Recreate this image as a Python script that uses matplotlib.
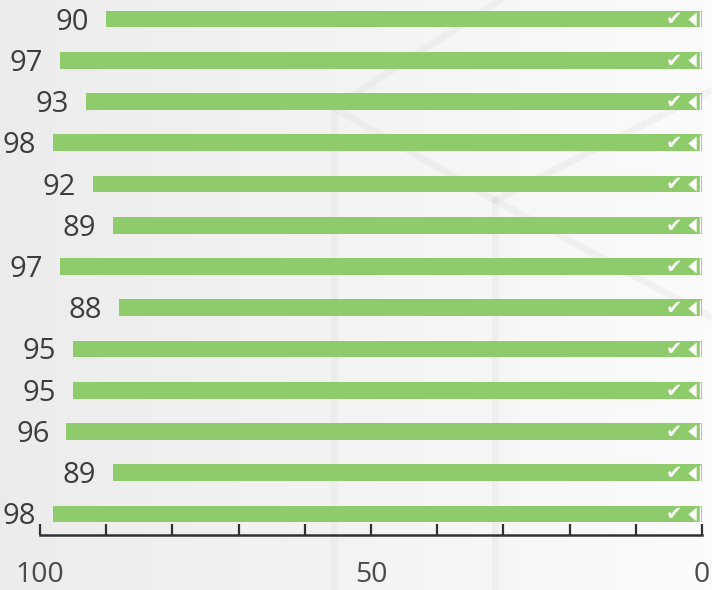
import numpy as np
import matplotlib
matplotlib.use("Agg")
import matplotlib.pyplot as plt
from matplotlib.path import Path

# scores, top row first
scores = [90, 97, 93, 98, 92, 89, 97, 88, 95, 95, 96, 89, 98]
tick_values = [100, 50, 0]
minor_values = list(range(0, 101, 10))

BAR_COLOR = "#8ecb6b"
TEXT_COLOR = "#3d3d3d"

# tall, narrow left-pointing arrow head
arrow_head = Path([(-0.3, 0), (0.3, 0.5), (0.3, -0.5), (-0.3, 0)],
                  [Path.MOVETO, Path.LINETO, Path.LINETO, Path.CLOSEPOLY])

fig = plt.figure(figsize=(7.12, 5.90), dpi=100)

# soft grey backdrop with a faint hexagon outline
bg = fig.add_axes([0, 0, 1, 1], zorder=0)
grad = np.linspace(0.925, 0.985, 256)[None, :]
bg.imshow(np.dstack([grad, grad, grad]), aspect="auto", extent=[0, 712, 590, 0])
hex_lines = [
    ([334, 500], [108, 0]),
    ([334, 495], [108, 200]),
    ([334, 334], [108, 590]),
    ([495, 495], [200, 590]),
    ([495, 712], [200, 90]),
    ([495, 712], [200, 318]),
]
for xs, ys in hex_lines:
    bg.plot(xs, ys, color="#d8d8d8", lw=5, alpha=0.25, solid_capstyle="round")
bg.set_xlim(0, 712)
bg.set_ylim(590, 0)
bg.axis("off")

ax = fig.add_axes([40 / 712, 55 / 590, 662 / 712, 535 / 590], zorder=1)
ax.patch.set_alpha(0)

y = np.arange(len(scores))
ax.barh(y, scores, height=0.41, color=BAR_COLOR, zorder=2)

# end caps: check mark, small arrow head and a thin white stripe
for yi, v in zip(y, scores):
    ax.text(4.3, yi + 0.02, "\u2714", color="white", fontsize=14,
            ha="center", va="center", family="DejaVu Sans", zorder=3)
    ax.plot(1.5, yi, marker=arrow_head, color="white", ms=10, mew=0, zorder=3)
    ax.plot(0.35, yi, marker="|", color="white", ms=12, mew=1.0, zorder=3)
    ax.annotate(str(v), (v, yi), xytext=(-17, -3), textcoords="offset pixels",
                ha="right", va="center", fontsize=21, color=TEXT_COLOR,
                family=["Open Sans", "DejaVu Sans"])

ax.set_xlim(100, 0)
ax.set_ylim(12 + 21 / 41.2, -19 / 41.2)

for side in ("top", "left", "right"):
    ax.spines[side].set_visible(False)
ax.spines["bottom"].set_color("#2f3336")
ax.spines["bottom"].set_linewidth(1.8)

ax.set_yticks([])
ax.set_xticks(tick_values)
ax.set_xticks(minor_values, minor=True)
ax.set_xticklabels([str(t) for t in tick_values])
ax.tick_params(axis="x", which="both", direction="in", length=8, width=1.6,
               color="#2f3336")
ax.tick_params(axis="x", which="major", pad=19, labelsize=20.5, labelcolor="#4a4a4a")
for lbl in ax.get_xticklabels():
    lbl.set_family(["Open Sans", "DejaVu Sans"])

fig.savefig("out.png", dpi=100)
